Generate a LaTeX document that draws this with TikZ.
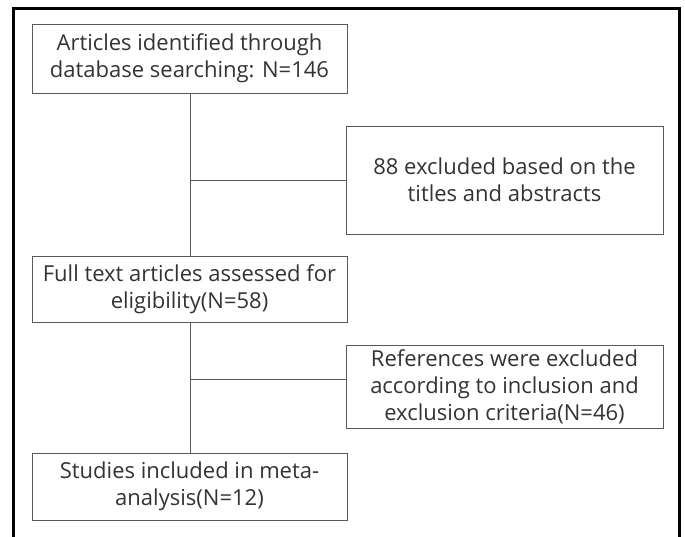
\documentclass[tikz,border=0pt]{standalone}
\usepackage{fontspec}
\setmainfont{Open Sans}[Ligatures=NoCommon]
\begin{document}
\begin{tikzpicture}[x=1pt,y=-1pt,
  box/.style={draw=black!65, line width=0.9pt, align=center, inner sep=0pt,
    text=black!80, font=\fontsize{22}{27}\selectfont},
  conn/.style={draw=black!65, line width=0.9pt}]
\useasboundingbox (0,0) rectangle (685,536);
\draw[line width=3pt] (13,8) rectangle (679,545);
\node[box, minimum width=315pt, minimum height=69pt] (b1) at (189.5,58.5)
  {Articles identified through\\database searching: N=146};
\node[box, minimum width=317pt, minimum height=108pt] (b2) at (504.5,180)
  {88 excluded based on the\\titles and abstracts};
\node[box, minimum width=315pt, minimum height=66pt] (b3) at (189.5,289)
  {Full text articles assessed for\\eligibility(N=58)};
\node[box, minimum width=317pt, minimum height=83pt] (b4) at (504.5,386.5)
  {References were excluded\\according to inclusion and\\exclusion criteria(N=46)};
\node[box, minimum width=315pt, minimum height=67pt] (b5) at (189.5,486.5)
  {Studies included in meta-\\analysis(N=12)};
\coordinate (j1) at (190,180);
\coordinate (j2) at (190,379);
\draw[conn] (b1.south -| j1) -- (b3.north -| j1);
\draw[conn] (j1) -- (j1 -| b2.west);
\draw[conn] (b3.south -| j2) -- (b5.north -| j2);
\draw[conn] (j2) -- (j2 -| b4.west);
\end{tikzpicture}
\end{document}
